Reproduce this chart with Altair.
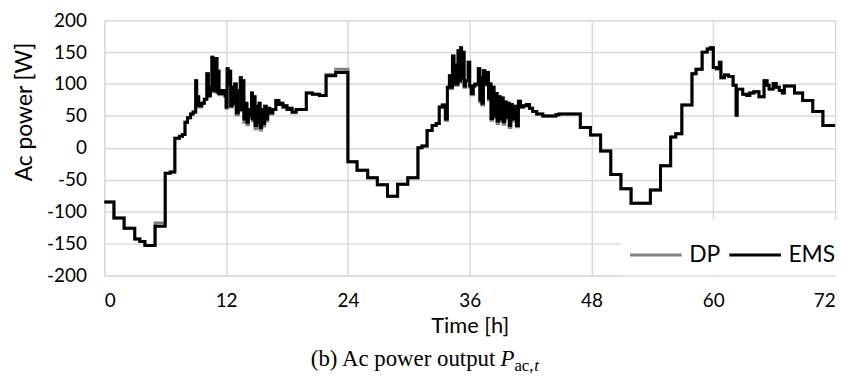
import altair as alt
import pandas as pd

# time breakpoints [h] (step-after)
t_h = [
    0, 0.95, 1.95, 3.0, 3.5, 4.0, 5.0, 6.0, 6.5, 6.95, 7.4, 7.7, 7.95, 8.2, 8.5, 8.75,
    9.0, 9.1, 9.3, 9.6, 9.85, 10.1, 10.25, 10.45, 10.6, 10.7, 10.8, 10.9, 11.0, 11.1, 11.2, 11.3, 11.6, 11.9,
    12.0, 12.1, 12.2, 12.35, 12.45, 12.6, 12.75, 12.85, 13.0, 13.2, 13.4, 13.5, 13.6, 13.75, 13.9,
    14.05, 14.2, 14.35, 14.5, 14.6, 14.75, 14.85, 15.0, 15.1, 15.25, 15.35, 15.5, 15.65, 15.8, 15.95,
    16.1, 16.3, 16.6, 16.9, 17.2, 17.4, 17.6, 17.8, 18.0, 18.2, 18.5, 18.9, 19.9, 20.5, 21.2, 21.85, 22.8,
    24.0, 24.9, 25.95, 26.9, 27.9, 28.9, 29.9, 30.9, 31.3, 31.8, 32.3, 32.7, 33.0, 33.3, 33.6, 33.8,
    34.0, 34.1, 34.3, 34.45, 34.6, 34.75, 34.85, 34.95, 35.1, 35.2, 35.3, 35.45, 35.6, 35.85, 36.0, 36.15, 36.35, 36.5, 36.85,
    37.0, 37.1, 37.2, 37.35, 37.5, 37.7, 37.85, 38.0, 38.1, 38.25, 38.4, 38.55, 38.7, 38.85, 39.0, 39.15, 39.3, 39.45, 39.6, 39.75, 39.9,
    40.05, 40.2, 40.35, 40.6, 40.8, 41.0, 41.3, 41.6, 41.9, 42.2, 42.6, 43.2, 44.5, 44.8, 46.9, 47.9, 48.9, 49.9, 50.9, 51.9,
    53.8, 54.8, 55.8, 56.3, 56.9, 57.9, 58.3, 58.9, 59.4, 59.7,
    60.0, 60.3, 60.6, 60.75, 61.1, 61.5, 61.95, 62.25, 62.35, 62.9, 63.3, 63.6, 64.0, 64.5, 65.0, 65.3, 65.5, 65.9,
    66.2, 66.5, 66.8, 67.0, 68.0, 68.8, 69.8, 70.8, 72.0,
]

# EMS ac power [W]
p_ems = [
    -85, -110, -126, -143, -147, -153, -123, -40, -38, 15, 18, 21, 40, 47, 53, 56,
    105, 80, 66, 70, 76, 116, 82, 95, 142, 90, 135, 95, 140, 88, 120, 85, 90, 82,
    64, 124, 100, 120, 66, 95, 70, 100, 55, 90, 110, 60, 105, 45, 70,
    40, 60, 50, 86, 45, 80, 35, 65, 40, 70, 32, 60, 38, 65, 45,
    62, 55, 60, 74, 68, 70, 64, 66, 60, 62, 56, 60, 86, 84, 82, 113, 118,
    -22, -35, -47, -58, -76, -57, -47, 0, 3, 27, 35, 38, 64, 67, 45, 95,
    113, 95, 144, 100, 130, 100, 152, 105, 157, 110, 150, 97, 105, 134, 97, 85, 97, 100, 124,
    75, 110, 70, 121, 100, 118, 78, 100, 46, 95, 50, 85, 42, 80, 45, 78, 41, 72, 48, 70, 35,
    68, 45, 65, 35, 73, 64, 66, 68, 62, 57, 53, 50, 52, 53, 32, 20, -5, -42, -64, -87,
    -66, -28, 17, 22, 67, 116, 123, 150, 155, 157,
    126, 124, 134, 110, 114, 112, 98, 51, 92, 84, 82, 86, 88, 80, 105, 98, 92, 101,
    95, 90, 86, 97, 86, 74, 57, 35, 35,
]

# DP ac power [W]
p_dp = [
    -85, -110, -126, -143, -147, -153, -118, -40, -38, 15, 18, 21, 40, 47, 53, 56,
    105, 80, 64, 70, 76, 116, 80, 95, 142, 88, 135, 93, 140, 86, 120, 83, 90, 80,
    62, 124, 98, 120, 64, 95, 68, 100, 52, 90, 110, 58, 105, 40, 68,
    36, 60, 46, 86, 42, 80, 30, 65, 36, 70, 28, 60, 34, 65, 42,
    62, 53, 60, 74, 68, 70, 64, 66, 60, 62, 55, 60, 86, 84, 82, 115, 123,
    -22, -35, -47, -58, -76, -57, -47, 0, 3, 27, 35, 38, 64, 67, 43, 95,
    113, 93, 144, 98, 130, 98, 152, 103, 157, 108, 150, 95, 105, 134, 95, 83, 97, 98, 124,
    72, 110, 67, 121, 98, 118, 75, 100, 43, 95, 47, 85, 38, 80, 42, 78, 37, 72, 45, 70, 32,
    68, 42, 65, 33, 73, 64, 66, 68, 62, 57, 53, 50, 52, 53, 32, 20, -5, -42, -64, -87,
    -66, -28, 17, 22, 67, 116, 123, 150, 155, 157,
    126, 124, 134, 110, 114, 112, 98, 51, 92, 84, 82, 86, 88, 80, 105, 98, 92, 101,
    95, 90, 86, 97, 86, 74, 57, 35, 35,
]

series_names = ["DP", "EMS"]
series_colors = ["#808080", "#000000"]
x_ticks = [0, 12, 24, 36, 48, 60, 72]
y_ticks = [-200, -150, -100, -50, 0, 50, 100, 150, 200]

assert len(t_h) == len(p_ems) == len(p_dp)

df = pd.concat([
    pd.DataFrame({"t": t_h, "p": p_dp, "series": "DP"}),
    pd.DataFrame({"t": t_h, "p": p_ems, "series": "EMS"}),
])

W, H = 736, 257
FONT = "Lato"

x_enc = alt.X("t:Q", scale=alt.Scale(domain=[0, 72], nice=False, zero=False),
              axis=alt.Axis(values=x_ticks, ticks=False, domain=False, grid=True,
                            gridColor="#d9d9d9", gridWidth=1.5,
                            labelFontSize=19, labelFont=FONT, labelColor="#000",
                            labelPadding=16, title="Time [h]", titleFont=FONT,
                            titleFontSize=22, titleFontWeight="normal", titleColor="#000",
                            titlePadding=6))
y_enc = alt.Y("p:Q", scale=alt.Scale(domain=[-200, 200], nice=False, zero=False),
              axis=alt.Axis(values=y_ticks, ticks=False, domain=False, grid=True,
                            gridColor="#d9d9d9", gridWidth=1.5,
                            labelFontSize=19, labelFont=FONT, labelColor="#000",
                            labelPadding=18, labelExpr="'' + datum.value",
                            title="Ac power [W]", titleFont=FONT, titleFontSize=23,
                            titleFontWeight="normal", titleColor="#000",
                            titleX=-80, titleY=92, titleBaseline="middle", titleAngle=270))
color_enc = alt.Color("series:N",
                      scale=alt.Scale(domain=series_names, range=series_colors),
                      legend=alt.Legend(orient="none", legendX=520, legendY=201,
                                        direction="horizontal", title=None,
                                        symbolType="stroke", symbolSize=2704,
                                        symbolStrokeWidth=3, labelFont=FONT,
                                        labelFontSize=23, labelColor="#000",
                                        fillColor="white", padding=8,
                                        columnPadding=2, labelOffset=6,
                                        gridAlign="none"))

base = alt.Chart(df)
dp_line = base.transform_filter(alt.datum.series == "DP").mark_line(
    interpolate="step-after", strokeWidth=3).encode(x=x_enc, y=y_enc, color=color_enc)
ems_line = base.transform_filter(alt.datum.series == "EMS").mark_line(
    interpolate="step-after", strokeWidth=3).encode(x=x_enc, y=y_enc, color=color_enc)

one = alt.Data(values=[{"k": 1}])
cap_main = alt.Chart(one).mark_text(
    text="(b) Ac power output", font="Liberation Serif", fontSize=23, align="left",
    baseline="alphabetic", color="#000").encode(x=alt.value(208), y=alt.value(348))
cap_p = alt.Chart(one).mark_text(
    text="P", font="Liberation Serif", fontSize=23, fontStyle="italic", align="left",
    baseline="alphabetic", color="#000").encode(x=alt.value(399), y=alt.value(348))
cap_sub = alt.Chart(one).mark_text(
    text="ac,", font="Liberation Serif", fontSize=17, align="left",
    baseline="alphabetic", color="#000").encode(x=alt.value(413), y=alt.value(353))
cap_sub_t = alt.Chart(one).mark_text(
    text="t", font="Liberation Serif", fontSize=17, fontStyle="italic", align="left",
    baseline="alphabetic", color="#000").encode(x=alt.value(433), y=alt.value(353))

chart = alt.layer(dp_line, ems_line, cap_main, cap_p, cap_sub, cap_sub_t).properties(
    width=W, height=H,
    autosize=alt.AutoSizeParams(type="none"),
    padding={"left": 97, "top": 11, "right": 12, "bottom": 100},
).configure_view(stroke="#bfbfbf", strokeWidth=2).configure(background="white")

chart.save("out.html", embed_options={"renderer": "svg", "actions": False})
